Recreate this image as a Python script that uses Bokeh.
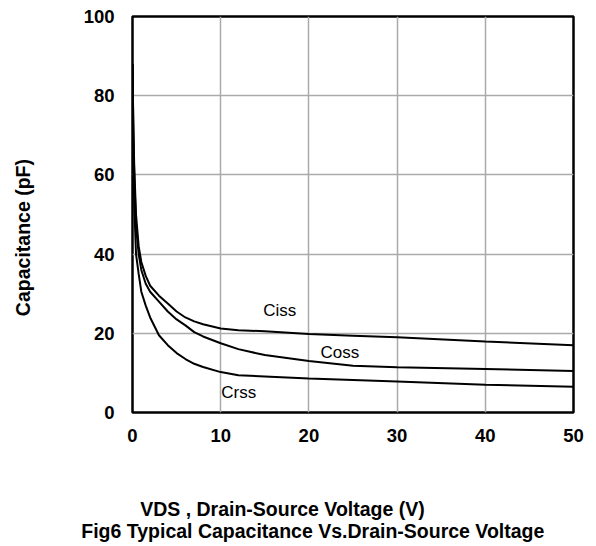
from bokeh.plotting import figure
from bokeh.models import FixedTicker, Label, Range1d
from bokeh.layouts import column, row
from bokeh.core.properties import value
from bokeh.embed import file_html
from bokeh.resources import INLINE

vds = [0, 0.1, 0.2, 0.4, 0.7, 1.0, 1.5, 2, 3, 4, 5, 6, 7, 8, 10, 12, 15, 20, 25, 30, 40, 50]
ciss = [88, 72, 62, 50, 42, 38, 34.5, 32, 29.5, 27.5, 25.5, 24, 23, 22.3, 21.2, 20.8, 20.5, 19.8, 19.4, 19.0, 17.9, 17.0]
coss = [88, 70, 60, 47, 40, 36, 32.5, 30.5, 28, 25.5, 23.5, 22, 20.3, 19.2, 17.5, 16, 14.5, 13, 11.8, 11.4, 11.0, 10.5]
crss = [88, 65, 52, 40, 35, 30.5, 27, 24, 19.5, 17, 15, 13.5, 12.3, 11.5, 10.2, 9.4, 9.1, 8.6, 8.2, 7.8, 7.0, 6.5]

x_ticks = [0, 10, 20, 30, 40, 50]
y_ticks = [0, 20, 40, 60, 80, 100]

curve_names = ["Ciss", "Coss", "Crss"]
curve_label_x = [16.7, 23.5, 12.05]
curve_label_y = [25.7, 15.2, 5.0]

y_title = "Capacitance (pF)"
x_title = "VDS , Drain-Source Voltage (V)"
fig_title = "Fig6 Typical Capacitance Vs.Drain-Source Voltage"

FONT = "Liberation Sans"

# geometry (pixels)
LEFT_W, MAIN_W, TOP_H, BOTTOM_H = 72, 516, 450, 94
BL, BR, BT, BB = 60, 15, 16, 38
XMIN, XMAX, YMIN, YMAX = 0, 50, 0, 100
px_x = (MAIN_W - BL - BR) / (XMAX - XMIN)
px_y = (TOP_H - BT - BB) / (YMAX - YMIN)

p = figure(width=MAIN_W, height=TOP_H, output_backend="svg", toolbar_location=None,
           x_range=Range1d(XMIN, XMAX), y_range=Range1d(YMIN, YMAX),
           min_border_left=BL, min_border_right=BR, min_border_top=BT, min_border_bottom=BB)
p.outline_line_color = "black"
p.outline_line_width = 2.5
p.background_fill_color = "white"
p.border_fill_color = "white"

for ax in (p.xaxis[0], p.yaxis[0]):
    ax.axis_line_color = None
    ax.major_tick_line_color = None
    ax.minor_tick_line_color = None
    ax.major_tick_out = 0
    ax.major_tick_in = 0
    ax.major_label_text_font = FONT
    ax.major_label_text_font_style = "bold"
    ax.major_label_text_font_size = "18.5px"
    ax.major_label_text_color = "black"

p.xaxis.ticker = FixedTicker(ticks=x_ticks)
p.yaxis.ticker = FixedTicker(ticks=y_ticks)
p.xaxis.major_label_standoff = 16
p.yaxis.major_label_standoff = 18

p.xgrid.ticker = FixedTicker(ticks=x_ticks)
p.ygrid.ticker = FixedTicker(ticks=y_ticks)
for g in (p.xgrid[0], p.ygrid[0]):
    g.grid_line_color = "#aaaaaa"
    g.grid_line_width = 1.5

for ys in (ciss, coss, crss):
    p.line(vds, ys, line_color="black", line_width=2)

for name, lx, ly in zip(curve_names, curve_label_x, curve_label_y):
    p.add_layout(Label(x=lx, y=ly, text=name, text_font=FONT, text_font_size="17px",
                       text_align="center", text_baseline="middle", text_color="black"))

# left strip: y title, same data scale as the main chart
lf = figure(width=LEFT_W, height=TOP_H, output_backend="svg", toolbar_location=None,
            x_axis_type=None, y_axis_type=None, min_border=0,
            x_range=Range1d(XMIN - (LEFT_W + BL) / px_x, XMIN - BL / px_x),
            y_range=Range1d(YMIN - BB / px_y, YMAX + BT / px_y))
lf.outline_line_color = None
lf.grid.visible = False
lf.text(x=[-12.41], y=[40.6], text=[y_title], angle=1.5707963,
        text_font=value(FONT), text_font_style="bold", text_font_size="19.5px",
        text_align="center", text_baseline="middle", text_color="black")

# bottom strip: axis title and figure caption
bf = figure(width=LEFT_W + MAIN_W, height=BOTTOM_H, output_backend="svg", toolbar_location=None,
            x_axis_type=None, y_axis_type=None, min_border=0,
            x_range=Range1d(XMIN - (LEFT_W + BL) / px_x, XMAX + BR / px_x),
            y_range=Range1d(YMIN - (BB + BOTTOM_H) / px_y, YMIN - BB / px_y))
bf.outline_line_color = None
bf.grid.visible = False
bf.text(x=[17.0, 20.44], y=[-24.44, -29.87], text=[x_title, fig_title],
        text_font=value(FONT), text_font_style="bold", text_font_size="19.5px",
        text_align="center", text_baseline="middle", text_color="black")

layout = column(row(lf, p, spacing=0), bf, spacing=0)
open("out.html", "w").write(file_html(layout, INLINE))
